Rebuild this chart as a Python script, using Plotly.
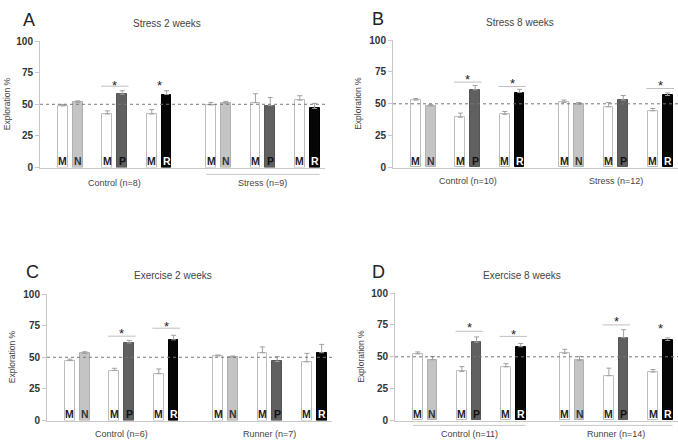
import plotly.graph_objects as go

W, H = 678, 446

# ---------------- data ----------------
bar_letters = ["M", "N", "M", "P", "M", "R"] * 2
titles = ["Stress 2 weeks", "Stress 8 weeks", "Exercise 2 weeks", "Exercise 8 weeks"]
panel_letters = ["A", "B", "C", "D"]
group_labels = [
    ["Control (n=8)", "Stress (n=9)"],
    ["Control (n=10)", "Stress (n=12)"],
    ["Control (n=6)", "Runner (n=7)"],
    ["Control (n=11)", "Runner (n=14)"],
]
A_vals = [48.7, 51.5, 42.3, 58.0, 42.3, 57.7, 49.5, 50.8, 51.3, 49.0, 53.3, 46.7]
A_err = [1.2, 1.2, 2.5, 2.7, 3.5, 3.0, 2.0, 1.5, 7.0, 6.4, 3.5, 4.0]
B_vals = [52.9, 48.3, 39.4, 61.0, 41.7, 58.8, 51.1, 49.6, 47.6, 52.9, 44.5, 56.5]
B_err = [1.2, 1.0, 3.3, 3.4, 2.3, 2.5, 1.9, 1.4, 3.4, 3.6, 1.8, 2.0]
C_vals = [47.4, 53.0, 39.5, 61.3, 37.0, 63.8, 51.0, 50.3, 53.6, 46.7, 46.4, 53.6]
C_err = [1.1, 1.4, 1.8, 2.0, 3.8, 3.6, 0.8, 0.7, 4.6, 3.8, 6.7, 6.6]
D_vals = [52.3, 47.7, 38.5, 61.5, 42.1, 57.9, 52.8, 47.2, 35.2, 65.0, 38.0, 62.8]
D_err = [1.5, 2.6, 3.8, 4.1, 2.5, 2.6, 3.1, 3.1, 5.9, 6.2, 2.0, 2.0]
values = [A_vals, B_vals, C_vals, D_vals]
errors = [A_err, B_err, C_err, D_err]
# significance: (bar a, bar b, line height or None, star height)
sig = [
    [(2, 3, 64.3, 67.3), (4, 5, None, 67.3)],
    [(2, 3, 67.0, 71.5), (4, 5, 63.6, 68.0), (10, 11, 62.0, 66.5)],
    [(2, 3, 66.7, 71.0), (4, 5, 73.0, 77.0)],
    [(2, 3, 70.0, 75.0), (4, 5, 66.0, 70.0), (8, 9, 75.0, 80.0), (10, 11, None, 74.5)],
]
group_underline = [[False, True], [False, False], [False, False], [True, True]]
chance_level = 50
yticks = [0, 25, 50, 75, 100]

# ---------------- style / layout ----------------
FONT = "Liberation Sans, Arial, sans-serif"
fill = {"M": "#ffffff", "N": "#c4c4c4", "P": "#606060", "R": "#060606"}
edge = {"M": "#bdbdbd", "N": "#b0b0b0", "P": "#555555", "R": "#000000"}
lettercol = {"M": "#222222", "N": "#333333", "P": "#111111", "R": "#ffffff"}

# plot areas in pixels: (x0, x1, ytop, ybottom)
areas = [(40, 325, 36, 166), (393, 678, 35, 166), (47, 332, 296, 426), (395, 678, 295, 426)]
xrange_ = [-1.55, 17.7]
bar_w = 0.66
title_pos = [(167, 18), (520, 17), (173, 277), (522, 277)]
letter_pos = [(29, 14), (378, 13), (32, 273), (378, 273)]
ytitle_x = [7, 358, 12, 361]
glabel_y = [182, 180, 440, 440]
gline_y = [173, 172, 432, 431]


def bar_x(i):
    g, r = divmod(i, 6)
    p, w = divmod(r, 2)
    return g * 10 + p * 3 + w


def px(x):
    return x / W


def py(y):
    return 1 - y / H


fig = go.Figure()
shapes, annots = [], []
for k in range(4):
    ax = "" if k == 0 else str(k + 1)
    xs = [bar_x(i) for i in range(12)]
    fig.add_trace(go.Bar(
        x=xs, y=values[k], width=bar_w,
        marker=dict(color=[fill[l] for l in bar_letters],
                    line=dict(color=[edge[l] for l in bar_letters], width=1)),
        error_y=dict(type="data", array=errors[k], arrayminus=[0] * 12, symmetric=False,
                     color="#a0a0a0", thickness=1, width=2.5),
        xaxis="x" + ax, yaxis="y" + ax, showlegend=False, hoverinfo="y",
    ))
    x0, x1, yt, yb = areas[k]
    fig.layout["xaxis" + ax] = dict(domain=[px(x0), min(px(x1), 1)], range=xrange_,
                                     showline=True, linecolor="#c8c8c8", linewidth=1,
                                     showticklabels=False, ticks="", showgrid=False,
                                     zeroline=False, anchor="y" + ax, fixedrange=True)
    fig.layout["yaxis" + ax] = dict(domain=[py(yb), py(yt)], range=[0, 100],
                                     tickvals=yticks, showline=True, linecolor="#c8c8c8",
                                     ticks="outside", ticklen=4, tickcolor="#c8c8c8",
                                     tickfont=dict(size=10, color="#333333", family=FONT, weight="bold"),
                                     showgrid=False, zeroline=False, anchor="x" + ax, fixedrange=True)
    xr, yr = "x" + ax, "y" + ax
    # chance line
    shapes.append(dict(type="line", xref=xr + " domain", yref=yr, x0=0, x1=1,
                       y0=chance_level, y1=chance_level,
                       line=dict(color="#777777", width=1, dash="dot")))
    # letters in bars
    for i, l in enumerate(bar_letters):
        annots.append(dict(x=xs[i], y=0, xref=xr, yref=yr, text=l, showarrow=False,
                           xanchor="center", yanchor="bottom", yshift=-1,
                           font=dict(size=10.5, color=lettercol[l], family=FONT, weight="bold")))
    # significance
    for a, b, ly, sy in sig[k]:
        if ly is not None:
            shapes.append(dict(type="line", xref=xr, yref=yr, x0=xs[a] - bar_w / 2 - 0.1,
                               x1=xs[b] + bar_w / 2 + 0.1, y0=ly, y1=ly,
                               line=dict(color="#c0c0c0", width=1)))
        annots.append(dict(x=(xs[a] + xs[b]) / 2, y=sy, xref=xr, yref=yr, text="*",
                           showarrow=False, xanchor="center", yanchor="middle", yshift=-3,
                           font=dict(size=13, color="#222222", family=FONT)))
    # groups
    for g in range(2):
        cx = (xs[g * 6] + xs[g * 6 + 5]) / 2
        annots.append(dict(x=cx, y=py(glabel_y[k]), xref=xr, yref="paper",
                           text=group_labels[k][g], showarrow=False,
                           xanchor="center", yanchor="middle",
                           font=dict(size=9, color="#444444", family=FONT)))
        if group_underline[k][g]:
            shapes.append(dict(type="line", xref=xr, yref="paper",
                               x0=xs[g * 6] - bar_w / 2, x1=xs[g * 6 + 5] + bar_w / 2,
                               y0=py(gline_y[k]), y1=py(gline_y[k]),
                               line=dict(color="#c8c8c8", width=1)))
    # title, panel letter, y title
    tx, ty = title_pos[k]
    annots.append(dict(x=px(tx), y=py(ty), xref="paper", yref="paper", text=titles[k],
                       showarrow=False, xanchor="center", yanchor="middle",
                       font=dict(size=10, color="#444444", family=FONT)))
    lx, ly_ = letter_pos[k]
    annots.append(dict(x=px(lx), y=py(ly_), xref="paper", yref="paper", text=panel_letters[k],
                       showarrow=False, xanchor="center", yanchor="middle",
                       font=dict(size=18, color="#222222", family=FONT)))
    annots.append(dict(x=px(ytitle_x[k]), y=py((yt + yb) / 2), xref="paper", yref="paper",
                       text="Exploration %", textangle=-90, showarrow=False,
                       xanchor="center", yanchor="middle",
                       font=dict(size=8.5, color="#444444", family=FONT)))

fig.update_layout(width=W, height=H, margin=dict(l=0, r=0, t=0, b=0),
                  paper_bgcolor="white", plot_bgcolor="white", bargap=0,
                  shapes=shapes, annotations=annots, font=dict(family=FONT))
fig.write_html("out.html")
